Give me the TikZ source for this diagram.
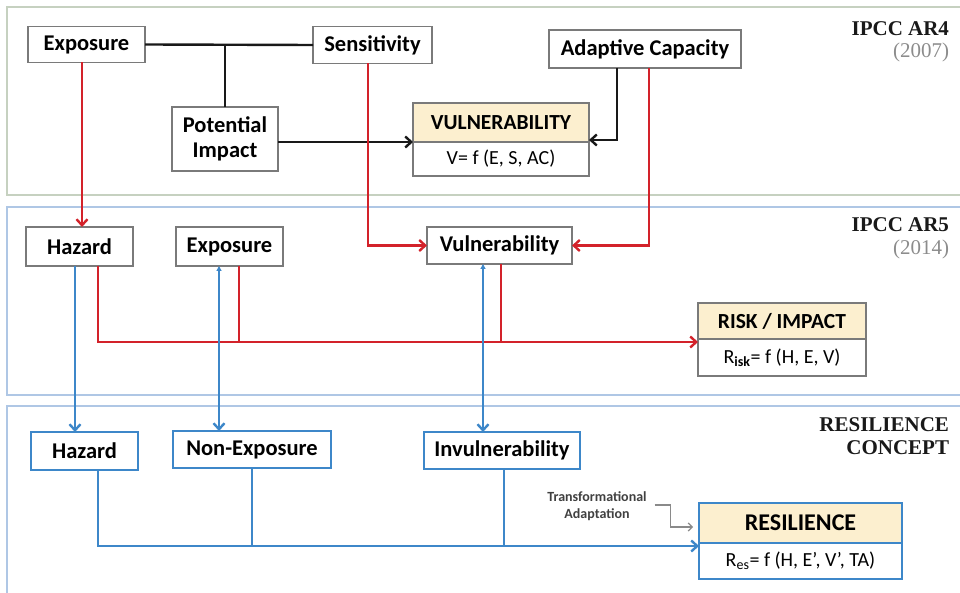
\documentclass[tikz,border=0pt]{standalone}
\usepackage{fontspec}
\setmainfont{Carlito}
\newfontfamily\titlefont{Liberation Serif}
\usetikzlibrary{arrows.meta,calc}
\definecolor{redline}{HTML}{D3222A}
\definecolor{blueline}{HTML}{3D87C9}
\definecolor{greenframe}{HTML}{C6D1C0}
\definecolor{blueframe}{HTML}{AFC7E5}
\definecolor{headfill}{HTML}{FCEFCF}
\definecolor{boxedge}{HTML}{7A7A7A}
\definecolor{yeargray}{HTML}{8C8C8C}
\definecolor{notegray}{HTML}{8A8A8A}
\begin{document}
\begin{tikzpicture}[x=1pt,y=-1pt,
  every node/.style={inner sep=0pt, outer sep=0pt},
  gbox/.style={draw=boxedge, line width=1.8pt, fill=white, align=center,
    font=\fontsize{22.5}{25}\selectfont\bfseries},
  bbox/.style={draw=blueline, line width=2.2pt, fill=white, align=center,
    font=\fontsize{22.5}{25}\selectfont\bfseries},
  ghead/.style={gbox, fill=headfill, font=\fontsize{21.5}{24}\selectfont\bfseries},
  bhead/.style={bbox, fill=headfill, font=\fontsize{24}{26}\selectfont\bfseries},
  gform/.style={gbox, font=\fontsize{20}{22}\selectfont},
  bform/.style={bbox, font=\fontsize{20}{22}\selectfont},
  paneltitle/.style={anchor=east, text=black!90, font=\titlefont\bfseries\fontsize{21}{24}\selectfont},
  panelyear/.style={anchor=east, text=yeargray, font=\titlefont\fontsize{21}{24}\selectfont},
  barb/.tip={Straight Barb[length=6pt,width=11pt]},
  blk/.style={draw=black!90, line width=2.4pt},
  redc/.style={draw=redline, line width=2.4pt},
  bluc/.style={draw=blueline, line width=2.4pt},
  notec/.style={draw=notegray, line width=1.2pt, -{Straight Barb[length=4pt,width=8pt]}},
  dbl/.style={{Triangle[length=5pt,width=5pt]}-barb}
]
\useasboundingbox (0,0) rectangle (960,593);

% panel frames
\draw[greenframe, line width=2.2pt] (7,7) rectangle (968,195);
\draw[blueframe, line width=2.2pt] (7,207) rectangle (968,395);
\draw[blueframe, line width=2.2pt] (7,406) rectangle (968,602);

% panel titles
\node[paneltitle] (t4) at (949,29) {IPCC AR4};
\node[panelyear] (y4) at (949,52) {(2007)};
\node[paneltitle] (t5) at (949,225) {IPCC AR5};
\node[panelyear] (y5) at (949,249) {(2014)};
\node[paneltitle] (tr) at (949,425) {RESILIENCE};
\node[paneltitle] (tc) at (949,448) {CONCEPT};

% IPCC AR4
\node[gbox, minimum width=117pt, minimum height=36pt] (exp1) at (86.5,44.5) {Exposure};
\node[gbox, minimum width=119pt, minimum height=37pt] (sens) at (372.5,45) {Sensitivity};
\node[gbox, minimum width=106pt, minimum height=64pt] (pot) at (225,139) {Potential\\Impact};
\node[gbox, minimum width=192pt, minimum height=38pt] (adapt) at (645,49) {Adaptive Capacity};
\node[ghead, minimum width=176pt, minimum height=39pt] (vulh) at (501,122.5) {VULNERABILITY};
\node[gform, minimum width=176pt, minimum height=34pt, anchor=north] (vulf) at (vulh.south) {V= f (E, S, AC)};

% IPCC AR5
\node[gbox, minimum width=107pt, minimum height=39pt] (haz2) at (79.5,246.5) {Hazard};
\node[gbox, minimum width=107pt, minimum height=39pt] (exp2) at (229.5,246.5) {Exposure};
\node[gbox, minimum width=145pt, minimum height=37pt] (vul2) at (499.5,245.5) {Vulnerability};
\node[ghead, minimum width=168pt, minimum height=36pt] (riskh) at (782,321) {RISK / IMPACT};
\node[gform, minimum width=168pt, minimum height=37pt, anchor=north] (riskf) at (riskh.south) {R\textsubscript{\bfseries isk}= f (H, E, V)};

% resilience concept
\node[bbox, minimum width=107pt, minimum height=38pt] (haz3) at (84.5,451) {Hazard};
\node[bbox, minimum width=158pt, minimum height=37pt] (nonexp) at (252,449.5) {Non-Exposure};
\node[bbox, minimum width=156pt, minimum height=37pt] (invul) at (502,450.5) {Invulnerability};
\node[bhead, minimum width=203pt, minimum height=40pt] (resh) at (800.5,523) {RESILIENCE};
\node[bform, minimum width=203pt, minimum height=36pt, anchor=north] (resf) at (resh.south) {R\textsubscript{es}= f (H, E’, V’, TA)};
\node[align=center, text=black!75, font=\fontsize{14}{17}\selectfont\bfseries] (ta) at (597,506) {Transformational\\Adaptation};

% AR4 connectors
\draw[blk] (exp1.east) -- (sens.west);
\draw[blk] (pot.north) -- (pot.north |- exp1.east);
\draw[blk, -barb] (pot.east |- vulh.south) -- (vulh.south west);
\draw[blk, -barb] ([xshift=-28pt]adapt.south) |- ([yshift=2pt]vulh.south east);

% AR4 -> AR5 connectors
\coordinate (h2top) at ([xshift=2.5pt]haz2.north);
\draw[redc, -barb] (exp1.south -| h2top) -- (h2top);
\draw[redc, -barb] ([xshift=-4.5pt]sens.south) |- (vul2.west);
\draw[redc, -barb] ([xshift=4pt]adapt.south) |- (vul2.east);

% AR5 risk connectors
\coordinate (riskin) at ([yshift=-3pt]riskh.south west);
\draw[redc, -barb] ([xshift=18.5pt]haz2.south) |- (riskin);
\draw[redc] ([xshift=9.5pt]exp2.south) -- ([xshift=9.5pt]exp2.south |- riskin);
\draw[redc] ([xshift=1.5pt]vul2.south) -- ([xshift=1.5pt]vul2.south |- riskin);

% AR5 -> resilience connectors
\coordinate (h3top) at ([xshift=-9.5pt]haz3.north);
\draw[bluc, -barb] (haz2.south -| h3top) -- (h3top);
\coordinate (nxtop) at ([xshift=-33pt]nonexp.north);
\draw[bluc, dbl] (exp2.south -| nxtop) -- (nxtop);
\coordinate (ivtop) at ([xshift=-19pt]invul.north);
\draw[bluc, dbl] (vul2.south -| ivtop) -- (ivtop);

% resilience connectors
\coordinate (resin) at ([yshift=-3pt]resh.south west);
\draw[bluc, -barb] ([xshift=13.5pt]haz3.south) |- (resin);
\draw[bluc] (nonexp.south) -- (nonexp.south |- resin);
\draw[bluc] ([xshift=2pt]invul.south) -- ([xshift=2pt]invul.south |- resin);

% transformational adaptation pointer
\draw[notec] ([xshift=8pt,yshift=1pt]ta.east) -- ++(16,0) |- ([xshift=-6pt,yshift=-4pt]resh.west);
\end{tikzpicture}
\end{document}
